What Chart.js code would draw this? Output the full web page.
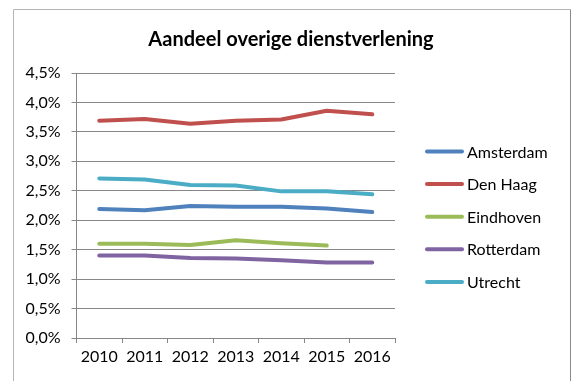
<!DOCTYPE html>
<html>
<head>
<meta charset="utf-8">
<title>Aandeel overige dienstverlening</title>
<script src="https://cdn.jsdelivr.net/npm/chart.js@4/dist/chart.umd.min.js"></script>
<style>
  html, body { margin: 0; padding: 0; background: #fff; }
  #wrap { position: relative; width: 571px; height: 381px; }
</style>
</head>
<body>
<div id="wrap"><canvas id="myChart" width="571" height="381"></canvas></div>
<script>
// jaren en aandelen (in %) per gemeente
var years = ['2010', '2011', '2012', '2013', '2014', '2015', '2016'];
var amsterdam = [2.19, 2.17, 2.24, 2.23, 2.23, 2.20, 2.14];
var denHaag   = [3.69, 3.72, 3.64, 3.69, 3.71, 3.86, 3.80];
var eindhoven = [1.60, 1.60, 1.58, 1.66, 1.61, 1.57, null];
var rotterdam = [1.40, 1.40, 1.36, 1.35, 1.32, 1.28, 1.28];
var utrecht   = [2.71, 2.69, 2.60, 2.59, 2.49, 2.49, 2.44];
var yTicks = [0, 0.5, 1, 1.5, 2, 2.5, 3, 3.5, 4, 4.5];

var TITLE = 'Aandeel overige dienstverlening';
var FONT = 'Lato, "Liberation Sans", sans-serif';

function serie(label, data, color) {
    return {
        label: label,
        data: data,
        borderColor: color,
        backgroundColor: color,
        borderWidth: 4,
        borderCapStyle: 'round',
        borderJoinStyle: 'round',
        pointRadius: 0,
        tension: 0,
        fill: false
    };
}

var datasets = [
    serie('Amsterdam', amsterdam, '#4F81BD'),
    serie('Den Haag', denHaag, '#C0504D'),
    serie('Eindhoven', eindhoven, '#9BBB59'),
    serie('Rotterdam', rotterdam, '#8064A2'),
    serie('Utrecht', utrecht, '#4BACC6')
];

// rand om de hele grafiek + titel over de volle breedte
var frame = {
    id: 'frame',
    beforeDraw: function (chart) {
        var ctx = chart.ctx;
        ctx.save();
        ctx.lineWidth = 1;
        ctx.strokeStyle = '#B4B4B4';
        ctx.beginPath();
        ctx.moveTo(13.5, 400);
        ctx.lineTo(13.5, 9.5);
        ctx.lineTo(570.5, 9.5);
        ctx.stroke();
        ctx.strokeStyle = '#8C8C8C';
        ctx.beginPath();
        ctx.moveTo(570.5, 9.5);
        ctx.lineTo(570.5, 400);
        ctx.stroke();

        ctx.fillStyle = '#000';
        ctx.font = 'bold 20px ' + FONT;
        ctx.textAlign = 'center';
        ctx.textBaseline = 'alphabetic';
        ctx.fillText(TITLE, 291, 46);
        ctx.restore();
    }
};

// legenda rechts, lijnstukjes met naam
var sideLegend = {
    id: 'sideLegend',
    afterDraw: function (chart) {
        var ctx = chart.ctx;
        ctx.save();
        chart.data.datasets.forEach(function (ds, i) {
            var y = 151.5 + i * 32.6;
            ctx.strokeStyle = ds.borderColor;
            ctx.lineWidth = 4;
            ctx.lineCap = 'round';
            ctx.beginPath();
            ctx.moveTo(427, y);
            ctx.lineTo(462, y);
            ctx.stroke();
            ctx.fillStyle = '#000';
            ctx.font = '16px ' + FONT;
            ctx.textBaseline = 'middle';
            ctx.textAlign = 'left';
            ctx.fillText(ds.label, 467, y + 1);
        });
        ctx.restore();
    }
};

var ctx = document.getElementById('myChart').getContext('2d');
window.myChart = new Chart(ctx, {
    type: 'line',
    data: { labels: years, datasets: datasets },
    plugins: [frame, sideLegend],
    options: {
        responsive: false,
        animation: false,
        spanGaps: false,
        layout: { padding: { top: 73, left: 0, right: 176, bottom: 0 } },
        plugins: {
            legend: { display: false },
            tooltip: { enabled: false },
            title: { display: false }
        },
        scales: {
            x: {
                offset: true,
                afterFit: function (s) { s.height = 43; },
                grid: {
                    offset: true,
                    drawOnChartArea: false,
                    drawTicks: true,
                    tickLength: 5,
                    color: '#878787'
                },
                border: { display: true, color: '#878787', width: 1 },
                ticks: {
                    color: '#000',
                    padding: 4,
                    maxRotation: 0,
                    font: { family: FONT, size: 16 }
                }
            },
            y: {
                min: 0,
                max: 4.5,
                afterFit: function (s) { s.width = 76.5; },
                afterBuildTicks: function (s) {
                    s.ticks = yTicks.map(function (v) { return { value: v }; });
                },
                grid: {
                    drawTicks: true,
                    tickLength: 5,
                    color: '#878787',
                    lineWidth: 1
                },
                border: { display: true, color: '#878787', width: 1 },
                ticks: {
                    color: '#000',
                    padding: 11,
                    font: { family: FONT, size: 16 },
                    callback: function (v) {
                        return v.toFixed(1).replace('.', ',') + '%';
                    }
                }
            }
        }
    }
});
</script>
</body>
</html>
